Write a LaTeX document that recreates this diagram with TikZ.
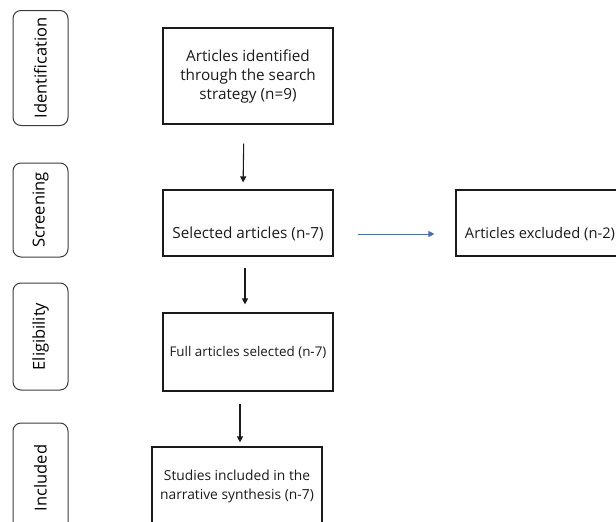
\documentclass[tikz,border=0pt]{standalone}
\usepackage{fontspec}
\setmainfont{Open Sans}
\usetikzlibrary{arrows.meta}
\definecolor{lineblack}{HTML}{1A1A1A}
\definecolor{arrowblue}{HTML}{4A6FA5}
\tikzset{
  flowbox/.style={draw=lineblack, line width=1.2pt, minimum width=170pt, align=center, inner sep=0pt, font=\fontsize{15.3}{19}\selectfont, text=lineblack},
  boxtext/.style={align=center, inner sep=0pt, font=\fontsize{15.3}{19}\selectfont, text=lineblack},
  phasebox/.style={draw=lineblack!85, line width=1pt, rounded corners=8pt, inner sep=0pt, font=\fontsize{16.5}{18}\selectfont, rotate=90, text=black},
  arr/.style={draw=lineblack, line width=1.1pt, -{Triangle[length=6pt,width=6pt]}},
  bluearr/.style={draw=arrowblue, line width=1pt, -{Triangle[length=6pt,width=6pt]}}
}
\begin{document}
\begin{tikzpicture}[x=1pt,y=-1pt]
\useasboundingbox (0,0) rectangle (616,522);
% phase labels
\node[phasebox, minimum height=55pt, minimum width=115pt] (p1) at (40.5,68) {Identification};
\node[phasebox, minimum height=55pt, minimum width=94pt] (p2) at (40.5,210) {Screening};
\node[phasebox, minimum height=55pt, minimum width=107pt] (p3) at (40.5,336.5) {Eligibility};
\node[phasebox, minimum height=55pt, minimum width=110pt] (p4) at (40.5,478) {Included};
% flow boxes
\node[flowbox, minimum height=96pt] (b1) at (248,76) {Articles identified\\through the search\\strategy (n=9)};
\node[flowbox, minimum height=66pt] (b2) at (248,223) {};
\node[boxtext] (t2) at ([yshift=-11pt]b2.center) {Selected articles (n-7)};
\node[flowbox, minimum height=66pt] (b3) at (541,223) {};
\node[boxtext, font=\fontsize{14.7}{19}\selectfont] (t3) at ([xshift=-1pt,yshift=-11pt]b3.center) {Articles excluded (n-2)};
\node[flowbox, minimum height=78pt, font=\fontsize{13.4}{16}\selectfont] (b4) at (248,352) {Full articles selected (n-7)};
\node[flowbox, minimum height=86pt] (b5) at (237,490) {};
\node[boxtext, font=\fontsize{13.8}{19}\selectfont] (t5) at ([yshift=3.5pt]b5.center) {Studies included in the\\narrative synthesis (n-7)};
% connectors
\draw[arr, shorten <=19pt, shorten >=7pt] ([xshift=-4pt]b1.south) -- ([xshift=-5pt]b2.north);
\draw[arr, shorten <=11pt, shorten >=8pt] ([xshift=-3pt]b2.south) -- ([xshift=-3pt]b4.north);
\draw[arr, shorten <=12pt, shorten >=4pt] ([xshift=-8pt]b4.south) -- ([xshift=3pt]b5.north);
\draw[bluearr, shorten <=24pt, shorten >=21pt] ([yshift=-11pt]b2.east) -- ([yshift=-11pt]b3.west);
\end{tikzpicture}
\end{document}
